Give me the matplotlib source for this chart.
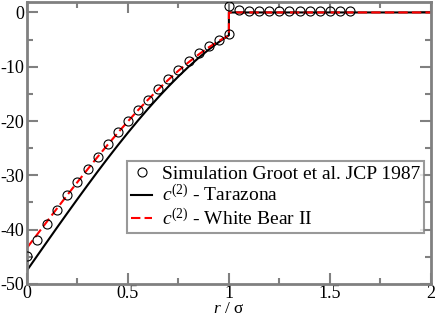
import matplotlib
matplotlib.use("Agg")
import matplotlib.pyplot as plt
from matplotlib.ticker import MultipleLocator

plt.rcParams["font.family"] = ["Liberation Serif", "DejaVu Serif"]
plt.rcParams["mathtext.fontset"] = "custom"
plt.rcParams["mathtext.rm"] = "Liberation Serif"
plt.rcParams["mathtext.it"] = "Liberation Serif:italic"
plt.rcParams["axes.unicode_minus"] = False

# simulation points (Groot et al.)
sim_r = [0.0, 0.05, 0.1, 0.15, 0.2, 0.25, 0.3, 0.35, 0.4, 0.45, 0.5,
         0.55, 0.6, 0.65, 0.7, 0.75, 0.8, 0.85, 0.9, 0.95, 1.0,
         1.0, 1.05, 1.1, 1.15, 1.2, 1.25, 1.3, 1.35, 1.4, 1.45, 1.5, 1.55, 1.6]
sim_c = [-44.8, -41.9, -39.0, -36.3, -33.7, -31.2, -28.8, -26.6, -24.3, -22.1, -20.0,
         -18.0, -16.1, -14.1, -12.3, -10.6, -9.0, -7.5, -6.2, -5.1, -4.0,
         1.2, 0.4, 0.2, 0.2, 0.2, 0.2, 0.2, 0.2, 0.2, 0.2, 0.2, 0.2, 0.2]

# theory curves
line_r = [0.0, 0.05, 0.1, 0.15, 0.2, 0.25, 0.3, 0.35, 0.4, 0.45, 0.5,
          0.55, 0.6, 0.65, 0.7, 0.75, 0.8, 0.85, 0.9, 0.95, 1.0, 1.0, 2.0]
tarazona = [-47.50, -44.84, -42.19, -39.55, -36.94, -34.36, -31.81, -29.30, -26.85,
            -24.46, -22.14, -19.89, -17.72, -15.64, -13.66, -11.78, -10.01, -8.36,
            -6.84, -5.45, -4.20, 0.0, 0.0]
white_bear = [-43.35, -40.90, -38.45, -36.02, -33.61, -31.23, -28.89, -26.59, -24.35,
              -22.16, -20.05, -18.00, -16.04, -14.17, -12.40, -10.73, -9.18, -7.74,
              -6.43, -5.25, -4.22, 0.0, 0.0]

fig = plt.figure(figsize=(4.36, 3.19), dpi=100)
ax = fig.add_axes([0.062, 0.110, 0.926, 0.885])

ax.plot(sim_r, sim_c, "o", mfc="none", mec="black", ms=6.5, mew=0.8,
        label="Simulation Groot et al. JCP 1987", zorder=3)
ax.plot(line_r, tarazona, "-", color="black", lw=1.5, label="$c^{(2)}$ - Tarazona")
ax.plot(line_r, white_bear, "--", color="red", lw=1.5, dashes=(4.5, 2),
        label="$c^{(2)}$ - White Bear II")

ax.set_xlim(0, 2)
ax.set_ylim(-50, 2)
ax.xaxis.set_major_locator(MultipleLocator(0.5))
ax.xaxis.set_minor_locator(MultipleLocator(0.25))
ax.yaxis.set_major_locator(MultipleLocator(10))
ax.yaxis.set_minor_locator(MultipleLocator(5))
ax.xaxis.set_major_formatter(plt.FuncFormatter(lambda v, p: f"{v:g}"))

ax.tick_params(which="both", direction="in", top=True, right=True,
               color="#808080", width=1.5, labelsize=13)
ax.tick_params(axis="x", pad=1)
ax.tick_params(axis="y", pad=2)
ax.tick_params(which="major", length=8)
ax.tick_params(which="minor", length=4)
for s in ax.spines.values():
    s.set_color("#808080")
    s.set_linewidth(2)

ax.set_xlabel("$r$ / σ", fontsize=12.5, labelpad=-1)

leg = ax.legend(loc="upper left", bbox_to_anchor=(0.2475, 0.434), fontsize=14,
                frameon=True, fancybox=False, borderpad=0.2, labelspacing=0.1,
                handlelength=1.1, handletextpad=0.5, borderaxespad=0)
leg.get_frame().set_edgecolor("#808080")
leg.get_frame().set_linewidth(1.5)

fig.savefig("out.png", dpi=100)
